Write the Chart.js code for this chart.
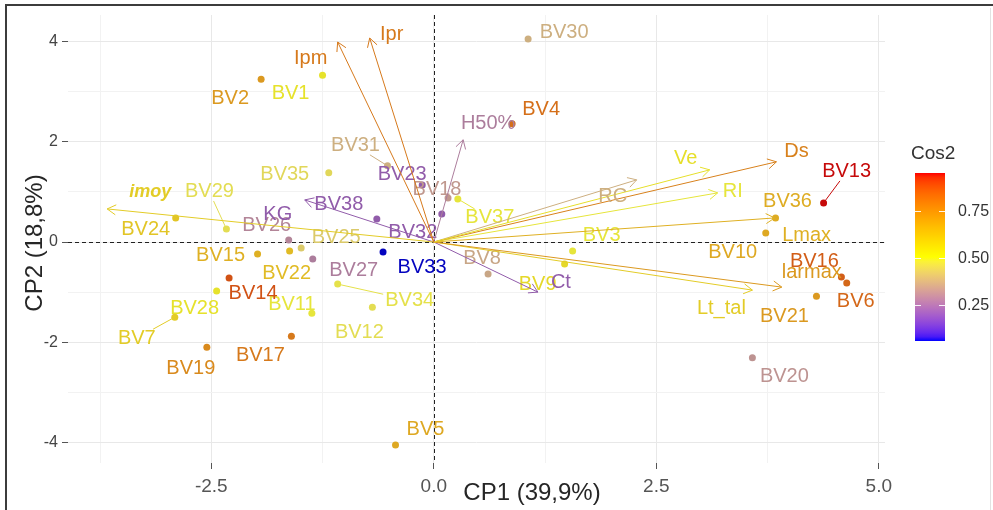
<!DOCTYPE html>
<html><head><meta charset="utf-8">
<script src="https://cdn.jsdelivr.net/npm/chart.js@4.4.0/dist/chart.umd.min.js"></script>
<style>html,body{margin:0;padding:0;background:#fff;}canvas{display:block;}</style>
</head><body>
<canvas id="c" width="993" height="510"></canvas>
<script>
// ---------- DATA ----------
const CATEGORIES = ['BV1','BV2','BV3','BV4','BV5','BV6','BV7','BV8','BV9','BV10','BV11','BV12','BV13','BV14','BV15','BV16','BV17','BV18','BV19','BV20','BV21','BV22','BV23','BV24','BV25','BV26','BV27','BV28','BV29','BV30','BV31','BV32','BV33','BV34','BV35','BV36','BV37','BV38'];
const IND_X = [-1.25,-1.94,1.56,0.88,-0.43,4.64,-2.91,0.61,1.47,3.73,-1.37,-0.69,4.38,-2.30,-1.98,4.58,-1.60,0.16,-2.55,3.58,4.30,-1.62,-0.13,-2.90,-1.49,-1.63,-1.36,-2.44,-2.33,1.06,-0.52,0.09,-0.57,-1.08,-1.18,3.84,0.27,-0.64];
const IND_Y = [3.33,3.25,-0.18,2.36,-4.05,-0.82,-1.50,-0.64,-0.44,0.18,-1.42,-1.30,0.78,-0.72,-0.24,-0.70,-1.88,0.88,-2.10,-2.31,-1.08,-0.18,1.14,0.48,-0.12,0.04,-0.34,-0.98,0.26,4.05,1.52,0.56,-0.20,-0.84,1.38,0.48,0.86,0.46];
const IND_COS2 = [0.52,0.72,0.50,0.82,0.68,0.84,0.58,0.36,0.55,0.68,0.50,0.48,0.95,0.88,0.66,0.86,0.80,0.33,0.76,0.32,0.72,0.63,0.20,0.60,0.44,0.29,0.27,0.52,0.48,0.38,0.38,0.20,0.06,0.49,0.47,0.67,0.50,0.20];

const VARIABLES = ['Ipm','Ipr','H50%','Ve','Ds','RC','RI','Lmax','larmax','Lt_tal','Ct','imoy','KG'];
const VAR_X = [-1.08,-0.72,0.33,3.10,3.85,2.28,3.19,3.83,3.91,3.58,1.17,-3.67,-1.45];
const VAR_Y = [3.99,4.07,2.04,1.44,1.60,1.24,0.98,0.48,-0.90,-0.96,-1.00,0.66,0.84];
const VAR_COS2 = [0.80,0.80,0.27,0.53,0.78,0.38,0.50,0.66,0.72,0.58,0.20,0.58,0.20];

const X_GRID = [-3.75,-2.5,-1.25,0,1.25,2.5,3.75,5];
const X_MAJOR = [-2.5,0,2.5,5];
const Y_GRID = [-4,-3,-2,-1,0,1,2,3,4];
const Y_MAJOR = [-4,-2,0,2,4];
const LEGEND_TICKS = [0.25,0.5,0.75];
const X_TITLE = 'CP1 (39,9%)';
const Y_TITLE = 'CP2 (18,8%)';
const LEGEND_TITLE = 'Cos2';

// ---------- LAYOUT (label offsets in px, relative to point / arrow tip) ----------
const IND_LABEL_OFFSET = {BV1:[-32,18],BV2:[-31,19],BV3:[29,-16],BV4:[29,-14],BV5:[30,-15],BV6:[9,18],BV7:[-38,21],BV8:[-6,-16],BV9:[-27,20],BV10:[-33,19],BV11:[-20,-9],BV12:[-13,25],BV13:[23,-31],BV14:[24,15],BV15:[-37,1],BV16:[-27,-16],BV17:[-31,19],BV18:[-11,-8],BV19:[-16,21],BV20:[32,19],BV21:[-32,20],BV22:[-3,22],BV23:[-20,-10],BV24:[-30,12],BV25:[35,-11],BV26:[-22,-15],BV27:[41,11],BV28:[-22,17],BV29:[-17,-37],BV30:[36,-7],BV31:[-32,-20],BV32:[-29,19],BV33:[39,15],BV34:[72,16],BV35:[-44,2],BV36:[12,-16],BV37:[32,19],BV38:[-38,-14]};
const CONNECT = ['BV7','BV13','BV29','BV31','BV34','BV37'];
const VAR_LABEL_OFFSET = {'Ipm':[-27,16],'Ipr':[22,-4],'H50%':[25,-16],'Ve':[-24,-11],'Ds':[20,-10],'RC':[-24,17],'RI':[15,-1],'Lmax':[32,18],'larmax':[30,-15],'Lt_tal':[-31,18],'Ct':[23,-10],'imoy':[43,-17],'KG':[-27,15]};

const FONT = "'Liberation Sans', Arial, Helvetica, sans-serif";

// ---------- colour scale (blue - yellow - red, Lab interpolation) ----------
function toLin(c){c/=255;return c<=0.04045?c/12.92:Math.pow((c+0.055)/1.055,2.4);}
function fromLin(c){c=c<=0.0031308?12.92*c:1.055*Math.pow(c,1/2.4)-0.055;return Math.max(0,Math.min(255,Math.round(c*255)));}
function rgb2lab(r,g,b){
  const R=toLin(r),G=toLin(g),B=toLin(b);
  let X=(0.4124*R+0.3576*G+0.1805*B)/0.95047, Y=(0.2126*R+0.7152*G+0.0722*B), Z=(0.0193*R+0.1192*G+0.9505*B)/1.08883;
  const f=t=>t>0.008856?Math.cbrt(t):7.787*t+16/116;
  const fx=f(X),fy=f(Y),fz=f(Z);
  return [116*fy-16,500*(fx-fy),200*(fy-fz)];
}
function lab2rgb(L,a,b){
  const fy=(L+16)/116, fx=fy+a/500, fz=fy-b/200;
  const fi=t=>{const t3=t*t*t;return t3>0.008856?t3:(t-16/116)/7.787;};
  const X=fi(fx)*0.95047,Y=fi(fy),Z=fi(fz)*1.08883;
  const R=3.2406*X-1.5372*Y-0.4986*Z, G=-0.9689*X+1.8758*Y+0.0415*Z, B=0.0557*X-0.2040*Y+1.0570*Z;
  return [fromLin(R),fromLin(G),fromLin(B)];
}
const STOPS=[rgb2lab(0,0,255),rgb2lab(255,255,0),rgb2lab(255,0,0)];
const ALLC = IND_COS2.concat(VAR_COS2);
const CMIN = Math.min(...ALLC), CMAX = Math.max(...ALLC);
function rampRGB(v){
  let t=(v-CMIN)/(CMAX-CMIN); t=Math.max(0,Math.min(1,t));
  let s=t*2, i=Math.min(1,Math.floor(s)), f=s-i;
  const A=STOPS[i],B=STOPS[i+1];
  return lab2rgb(A[0]+(B[0]-A[0])*f,A[1]+(B[1]-A[1])*f,A[2]+(B[2]-A[2])*f);
}
function colorFor(v){const c=rampRGB(v);return `rgb(${c[0]},${c[1]},${c[2]})`;}
// slightly muted version for marks and labels (as in the reference rendering)
function markColor(v){
  const c=rampRGB(v);
  const l=0.2126*c[0]+0.7152*c[1]+0.0722*c[2];
  const m=c.map(k=>Math.round((k*0.8+l*0.2)*0.92));
  return `rgb(${m[0]},${m[1]},${m[2]})`;
}

// ---------- datasets ----------
const datasets=[];
VARIABLES.forEach((n,i)=>{
  datasets.push({label:n,data:[{x:0,y:0},{x:VAR_X[i],y:VAR_Y[i]}],showLine:true,borderColor:markColor(VAR_COS2[i]),borderWidth:1,pointRadius:0,pointHoverRadius:0,fill:false});
});
const IND_DS = datasets.length;
datasets.push({label:'individus',data:CATEGORIES.map((c,i)=>({x:IND_X[i],y:IND_Y[i]})),pointBackgroundColor:IND_COS2.map(markColor),pointBorderWidth:0,pointRadius:3.5,pointHoverRadius:3.5,showLine:false});

function isIn(arr,v){return arr.some(a=>Math.abs(a-v)<1e-9);}

const plugin={
  id:'biplot',
  beforeDatasetsDraw(chart){
    const {ctx,chartArea:a,scales:{x,y}}=chart;
    ctx.save();ctx.strokeStyle='#222';ctx.lineWidth=1;ctx.setLineDash([4,3]);
    const x0=Math.round(x.getPixelForValue(0))+0.5, y0=Math.round(y.getPixelForValue(0))+0.5;
    ctx.beginPath();ctx.moveTo(x0,a.top);ctx.lineTo(x0,a.bottom);ctx.stroke();
    ctx.beginPath();ctx.moveTo(a.left,y0);ctx.lineTo(a.right,y0);ctx.stroke();
    ctx.restore();
  },
  afterDatasetDraw(chart,args){
    if(args.index!==IND_DS) return;
    const {ctx,scales:{x,y}}=chart;
    ctx.save();
    ctx.font=`20px ${FONT}`;ctx.textAlign='center';ctx.textBaseline='middle';
    CATEGORIES.forEach((n,i)=>{
      const px=x.getPixelForValue(IND_X[i]), py=y.getPixelForValue(IND_Y[i]);
      const o=IND_LABEL_OFFSET[n]||[0,-14];
      const lx=px+o[0], ly=py+o[1];
      const col=markColor(IND_COS2[i]);
      if(CONNECT.includes(n)){
        const w=ctx.measureText(n).width/2+2, h=9;
        const dx=lx-px, dy=ly-py;
        const k=Math.min(dx?w/Math.abs(dx):1e9, dy?h/Math.abs(dy):1e9);
        ctx.strokeStyle=col;ctx.lineWidth=1;
        ctx.beginPath();ctx.moveTo(px,py);ctx.lineTo(lx-dx*k,ly-dy*k);ctx.stroke();
      }
      ctx.fillStyle=col;ctx.fillText(n,lx,ly);
    });
    ctx.restore();
  },
  afterDatasetsDraw(chart){
    const {ctx,scales:{x,y}}=chart;
    ctx.save();
    const ox=x.getPixelForValue(0), oy=y.getPixelForValue(0);
    VARIABLES.forEach((n,i)=>{
      const tx=x.getPixelForValue(VAR_X[i]), ty=y.getPixelForValue(VAR_Y[i]);
      const col=markColor(VAR_COS2[i]);
      const th=Math.atan2(ty-oy,tx-ox), L=10;
      ctx.strokeStyle=col;ctx.lineWidth=1;
      ctx.beginPath();
      ctx.moveTo(tx-L*Math.cos(th-Math.PI/6),ty-L*Math.sin(th-Math.PI/6));
      ctx.lineTo(tx,ty);
      ctx.lineTo(tx-L*Math.cos(th+Math.PI/6),ty-L*Math.sin(th+Math.PI/6));
      ctx.stroke();
      const o=VAR_LABEL_OFFSET[n]||[0,-14];
      ctx.font=(n==='imoy')?`italic bold 18px ${FONT}`:`20px ${FONT}`;
      ctx.textAlign='center';ctx.textBaseline='middle';ctx.fillStyle=col;
      ctx.fillText(n,tx+o[0],ty+o[1]);
    });
    ctx.restore();
  },
  afterDraw(chart){
    const {ctx}=chart;
    ctx.save();
    // axis titles
    ctx.fillStyle='#262626';ctx.font=`24px ${FONT}`;ctx.textAlign='center';ctx.textBaseline='middle';
    ctx.fillText(X_TITLE,532,493);
    ctx.save();ctx.translate(35,243);ctx.rotate(-Math.PI/2);ctx.fillText(Y_TITLE,0,0);ctx.restore();
    // legend
    const bx=915,bw=30,bt=173,bb=341;
    const gy=v=>bb-(v-CMIN)/(CMAX-CMIN)*(bb-bt);
    const g=ctx.createLinearGradient(0,bb,0,bt);
    for(let k=0;k<=40;k++){const v=CMIN+(CMAX-CMIN)*k/40;g.addColorStop(k/40,colorFor(v));}
    ctx.fillStyle=g;ctx.fillRect(bx,bt,bw,bb-bt);
    ctx.strokeStyle='rgba(255,255,255,0.9)';ctx.lineWidth=1;
    ctx.fillStyle='#333';ctx.font=`16px ${FONT}`;ctx.textAlign='left';
    LEGEND_TICKS.forEach(v=>{
      const yy=Math.round(gy(v))+0.5;
      ctx.beginPath();ctx.moveTo(bx,yy);ctx.lineTo(bx+6,yy);ctx.moveTo(bx+bw-6,yy);ctx.lineTo(bx+bw,yy);ctx.stroke();
      ctx.fillText(v.toFixed(2),bx+bw+13,yy);
    });
    ctx.font=`19px ${FONT}`;ctx.fillStyle='#333';ctx.fillText(LEGEND_TITLE,911,154);
    // frame
    ctx.strokeStyle='#3c3c3c';ctx.lineWidth=2;
    ctx.beginPath();ctx.moveTo(6,510);ctx.lineTo(6,5);ctx.lineTo(993,5);ctx.stroke();
    ctx.strokeStyle='#e2e2e2';ctx.lineWidth=1;
    ctx.beginPath();ctx.moveTo(990.5,8);ctx.lineTo(990.5,510);ctx.stroke();
    ctx.restore();
  }
};

new Chart(document.getElementById('c'),{
  type:'scatter',
  data:{datasets},
  options:{
    responsive:false,animation:false,devicePixelRatio:1,events:[],
    layout:{padding:{left:0,right:108,top:15,bottom:0}},
    plugins:{legend:{display:false},tooltip:{enabled:false}},
    scales:{
      x:{type:'linear',min:-4.11,max:5.07,
        afterBuildTicks:s=>{s.ticks=X_GRID.map(v=>({value:v}));},
        afterFit:s=>{s.height=47;},
        border:{display:false},
        grid:{color:c=>(c.tick&&isIn(X_MAJOR,c.tick.value))?'#e8e8e8':'#f2f2f2',lineWidth:1,drawTicks:true,tickLength:6,
          tickColor:c=>(c.tick&&isIn(X_MAJOR,c.tick.value))?'#555':'rgba(0,0,0,0)'},
        ticks:{autoSkip:false,maxRotation:0,color:'#555',font:{family:FONT,size:19},padding:6,
          callback:v=>isIn(X_MAJOR,v)?Number(v).toFixed(1):''}
      },
      y:{type:'linear',min:-4.41,max:4.53,
        afterBuildTicks:s=>{s.ticks=Y_GRID.map(v=>({value:v}));},
        afterFit:s=>{s.width=68;},
        border:{display:false},
        grid:{color:c=>(c.tick&&isIn(Y_MAJOR,c.tick.value))?'#e8e8e8':'#f2f2f2',lineWidth:1,drawTicks:true,tickLength:6,
          tickColor:c=>(c.tick&&isIn(Y_MAJOR,c.tick.value))?'#555':'rgba(0,0,0,0)'},
        ticks:{autoSkip:false,color:'#444',font:{family:FONT,size:16},padding:4,
          callback:v=>isIn(Y_MAJOR,v)?String(v):''}
      }
    }
  },
  plugins:[plugin]
});
</script>
</body></html>
